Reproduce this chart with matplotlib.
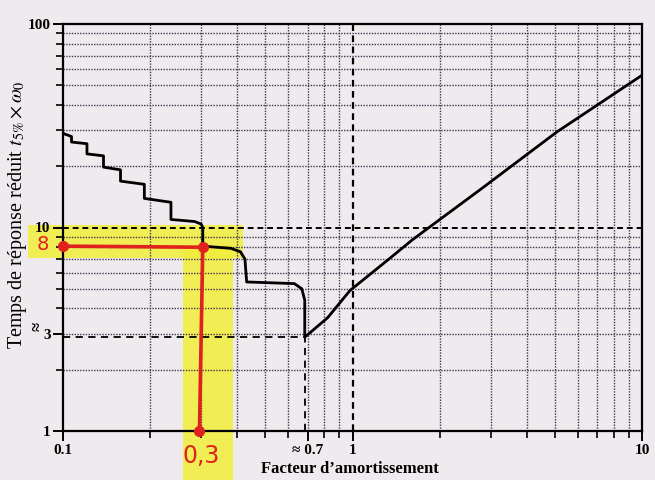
import numpy as np
import matplotlib
matplotlib.use('Agg')
import matplotlib.pyplot as plt
from matplotlib.patches import Rectangle
from matplotlib.ticker import FixedLocator, NullFormatter

plt.rcParams['font.family'] = ['Liberation Serif', 'DejaVu Serif']
plt.rcParams['mathtext.fontset'] = 'stix'

# reduced 5% settling time vs damping factor
zeta = [0.100, 0.107, 0.107, 0.121, 0.121, 0.138, 0.138, 0.158, 0.158, 0.191,
        0.191, 0.236, 0.236, 0.285, 0.300, 0.304, 0.304, 0.380, 0.410, 0.425,
        0.431, 0.630, 0.668, 0.684, 0.684, 0.82, 0.98, 1.32, 1.61, 2.77,
        5.1, 10.0]
t5w0 = [29.0, 28.0, 26.3, 25.8, 23.0, 22.5, 19.8, 19.2, 16.9, 16.3,
        13.9, 13.3, 10.95, 10.7, 10.4, 10.0, 8.1, 7.9, 7.6, 7.0,
        5.4, 5.3, 5.0, 4.4, 2.89, 3.6, 4.9, 6.9, 8.7, 15.4,
        29.6, 56.0]

zeta_min = 0.684
t_min = 2.89

# handwritten reading: zeta = 0.3 -> t = 8
read_zeta = [0.1, 0.304, 0.296]
read_t = [8.1, 8.0, 1.0]

paper = '#eeeaee'
grid_col = '#43374d'

fig = plt.figure(figsize=(6.55, 4.8), dpi=100, facecolor=paper)
W, H = 655, 480
ax = fig.add_axes([63 / W, 1 - 431 / H, (642 - 63) / W, (431 - 24) / H])
ax.set_facecolor('none')

# yellow highlighter strokes (figure pixels)
hl = '#f2ee3a'
fig.patches.append(Rectangle((28 / W, 1 - 258 / H), 215 / W, 33 / H,
                             transform=fig.transFigure, color=hl, alpha=0.85,
                             zorder=-1, lw=0))
fig.patches.append(Rectangle((183 / W, 0), 50 / W, 1 - 245 / H,
                             transform=fig.transFigure, color=hl, alpha=0.85,
                             zorder=-1, lw=0))

ax.set_xscale('log')
ax.set_yscale('log')
ax.set_xlim(0.1, 10)
ax.set_ylim(1, 100)

xminor = [0.2, 0.3, 0.4, 0.5, 0.6, 0.7, 0.8, 0.9, 2, 3, 4, 5, 6, 7, 8, 9]
yminor = [2, 3, 4, 5, 6, 7, 8, 9, 20, 30, 40, 50, 60, 70, 80, 90]
for v in xminor:
    ax.axvline(v, color=grid_col, lw=1.0, ls=(0, (1, 1)), zorder=1)
for v in yminor:
    ax.axhline(v, color=grid_col, lw=1.0, ls=(0, (1, 1)), zorder=1)
ax.axvline(1, color='black', lw=1.6, ls=(0, (3, 2)), zorder=1)
ax.axhline(10, color='black', lw=1.4, ls=(0, (3, 2)), zorder=1)

# guide lines to the minimum
ax.plot([0.1, zeta_min], [t_min, t_min], color='black', lw=1.3,
        ls=(0, (4, 3)), zorder=2)
ax.plot([zeta_min, zeta_min], [1, t_min], color='black', lw=1.3,
        ls=(0, (4, 3)), zorder=2)

ax.plot(zeta, t5w0, color='black', lw=2.0, zorder=3, solid_joinstyle='round')

# red reading annotations
red = '#e0221e'
ax.plot(read_zeta, read_t, color=red, lw=2.6, zorder=4, clip_on=False)
ax.plot(read_zeta, read_t, 'o', color=red, ms=7, zorder=5, clip_on=False)

for s in ax.spines.values():
    s.set_linewidth(1.6)

ax.xaxis.set_major_locator(FixedLocator([0.1, 0.7, 1, 10]))
ax.set_xticklabels(['0.1', '\u2248 0.7', '1', '10'])
ax.xaxis.set_minor_locator(FixedLocator(xminor))
ax.xaxis.set_minor_formatter(NullFormatter())
ax.yaxis.set_major_locator(FixedLocator([1, 3, 10, 100]))
ax.set_yticklabels(['1', '3', '10', '100'])
ax.yaxis.set_minor_locator(FixedLocator(yminor))
ax.yaxis.set_minor_formatter(NullFormatter())
ax.tick_params(which='major', length=7, width=1.4, direction='out', pad=2,
               labelsize=11)
ax.tick_params(which='minor', length=5, width=1.2, direction='out')
for lab in ax.get_xticklabels() + ax.get_yticklabels():
    lab.set_fontweight('bold')

fig.text(38 / W, 1 - 326 / H, '\u2248', rotation=90, fontsize=12,
         fontweight='bold', ha='center', va='center')

fig.text(350 / W, 1 - 469 / H, "Facteur d\u2019amortissement", fontsize=12,
         fontweight='bold', ha='center', va='center')
fig.text(18 / W, 1 - 215 / H,
         "Temps de r\u00e9ponse r\u00e9duit $t_{5\\%} \\times \\omega_0$",
         rotation=90, fontsize=14.5, ha='center', va='center')

fig.text(43 / W, 1 - 245 / H, '8', color=red, fontsize=14, ha='center',
         va='center', family='DejaVu Sans')
fig.text(201 / W, 1 - 456 / H, '0,3', color=red, fontsize=17, ha='center',
         va='center', family='DejaVu Sans')

fig.savefig('out.png', dpi=100, facecolor=paper)
